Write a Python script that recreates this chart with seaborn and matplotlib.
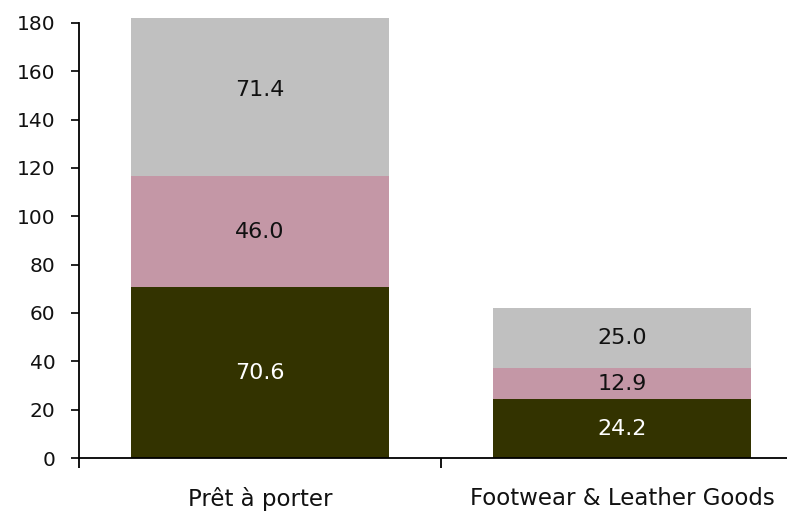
import matplotlib
matplotlib.use("Agg")
import matplotlib.pyplot as plt
import seaborn as sns
import numpy as np

categories = ["Prêt à porter", "Footwear & Leather Goods"]
series_bottom = [70.6, 24.2]
series_middle = [46.0, 12.9]
series_top = [71.4, 25.0]
yticks = [0, 20, 40, 60, 80, 100, 120, 140, 160, 180]

colors = ["#333300", "#C497A6", "#C0C0C0"]
text_colors = ["white", "#111111", "#111111"]

sns.set_style("white")
plt.rcParams["font.family"] = ["DejaVu Sans"]

fig = plt.figure(figsize=(7.87, 5.12), dpi=100)
ax = fig.add_axes([79 / 787, 54 / 512, 724 / 787, 440 / 512])

bottom = np.zeros(len(categories))
for vals, col, tcol in zip([series_bottom, series_middle, series_top], colors, text_colors):
    sns.barplot(x=categories, y=vals, bottom=bottom, color=col, width=0.713,
                saturation=1, ax=ax, linewidth=0, edgecolor="none")
    for i, v in enumerate(vals):
        ax.text(i, bottom[i] + v / 2, f"{v:.1f}", ha="center", va="center",
                fontsize=16, color=tcol)
    bottom = bottom + np.array(vals)

ax.set_xlim(-0.5, 1.5)
ax.set_ylim(0, 182)
ax.set_yticks(yticks)
ax.set_yticklabels([str(t) for t in yticks])
ax.set_xticks([0, 1])
ax.set_xticklabels(categories)
ax.tick_params(axis="x", length=0, pad=21, labelsize=16.5, colors="#111111")
ax.tick_params(axis="y", length=6, width=1.3, pad=11, labelsize=14.5, colors="#111111", direction="out", left=True)
ax.set_xticks([-0.5, 0.5, 1.5], minor=True)
ax.tick_params(axis="x", which="minor", length=7, width=1.3, direction="out", bottom=True, color="black")

for s in ["top", "right"]:
    ax.spines[s].set_visible(False)
for s in ["left", "bottom"]:
    ax.spines[s].set_color("black")
    ax.spines[s].set_linewidth(1.3)
ax.spines["left"].set_bounds(0, 180)
ax.set_xlabel("")
ax.set_ylabel("")
ax.grid(False)

fig.savefig("out.png", dpi=100)
